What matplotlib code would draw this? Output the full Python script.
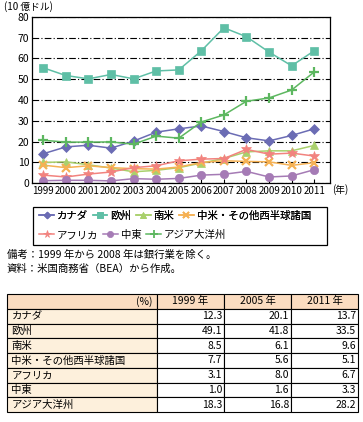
import matplotlib
matplotlib.use("Agg")
import matplotlib.pyplot as plt
from matplotlib.patches import Rectangle
from matplotlib.lines import Line2D

plt.rcParams['font.family'] = ['Noto Sans CJK JP', 'DejaVu Sans']

years = list(range(1999, 2012))

canada = [14.1, 17.4, 18.2, 16.8, 20.2, 24.5, 26.1, 27.5, 24.8, 21.8, 20.3, 22.9, 26.1]
europe = [55.5, 51.8, 50.2, 52.3, 50.2, 54.0, 54.5, 63.7, 74.8, 70.5, 63.1, 56.5, 63.7]
s_america = [9.9, 10.2, 8.8, 7.2, 5.4, 6.1, 7.4, 9.6, 11.8, 15.0, 15.5, 15.5, 18.1]
c_america = [8.6, 7.4, 8.3, 7.4, 6.9, 6.7, 7.7, 9.9, 10.7, 10.4, 10.2, 8.5, 9.8]
africa = [3.8, 2.9, 4.3, 5.3, 7.4, 8.3, 10.7, 11.5, 11.8, 16.2, 13.9, 14.4, 13.0]
mideast = [1.1, 1.3, 1.3, 1.0, 2.1, 1.8, 2.2, 3.8, 4.2, 5.6, 2.9, 3.4, 6.4]
asia = [20.6, 19.7, 19.7, 19.8, 18.7, 22.6, 21.6, 29.4, 32.8, 39.4, 41.0, 44.8, 53.5]

names = ['カナダ', '欧州', '南米', '中米・その他西半球諸国', 'アフリカ', '中東', 'アジア大洋州']
table_cols = ['1999 年', '2005 年', '2011 年']
table_vals = [
    ['12.3', '20.1', '13.7'],
    ['49.1', '41.8', '33.5'],
    ['8.5', '6.1', '9.6'],
    ['7.7', '5.6', '5.1'],
    ['3.1', '8.0', '6.7'],
    ['1.0', '1.6', '3.3'],
    ['18.3', '16.8', '28.2'],
]

series = [canada, europe, s_america, c_america, africa, mideast, asia]
colors = ['#6b6cb4', '#5fbfa6', '#a9d06c', '#f5b154', '#f2837f', '#a57bb5', '#5db760']
markers = ['D', 's', '^', 'x', '*', 'o', '+']
msizes = [5, 6, 6, 6, 7, 6, 7]

fig = plt.figure(figsize=(3.63, 4.22), dpi=100)
ax = fig.add_axes([32 / 363, 1 - 183 / 422, 298 / 363, 166 / 422])

for vals, c, m, s in zip(series, colors, markers, msizes):
    ax.plot(years, vals, color=c, lw=1.1, marker=m, ms=s,
            mec=c, mfc=c, mew=1.6 if m in 'x+' else 0.5)

ax.set_xlim(1998.5, 2011.7)
ax.set_ylim(0, 80)
ax.set_yticks(range(0, 81, 10))
ax.set_xticks(years)
ax.set_xticklabels([str(y) for y in years])
ax.tick_params(axis='both', direction='in', labelsize=7, length=3, width=0.8, pad=2)
ax.tick_params(axis='y', length=0, labelsize=7.5)
ax.grid(axis='y', color='black', lw=0.8, linestyle=(0, (6, 2, 1, 2)))
ax.set_axisbelow(True)
for sp in ax.spines.values():
    sp.set_linewidth(0.9)

fig.text(332 / 363, 1 - 190 / 422, '(年)', fontsize=7, ha='left', va='center')
fig.text(4 / 363, 1 - 7 / 422, '(10 億ドル)', fontsize=7, ha='left', va='center')

# legend: two rows in one frame
def leg_handle(i):
    return Line2D([], [], color=colors[i], marker=markers[i], ms=msizes[i] - 1.5,
                  mec=colors[i], mfc=colors[i], lw=1.1,
                  mew=1.3 if markers[i] in 'x+' else 0.5)

leg_kw = dict(loc='center left', frameon=False, fontsize=7.5, handlelength=1.4,
              handletextpad=0.3, columnspacing=0.45, borderpad=0.1)
l1 = fig.legend([leg_handle(i) for i in range(4)], names[:4], ncol=4,
                bbox_to_anchor=(33 / 363, 1 - 216 / 422), **leg_kw)
fig.legend([leg_handle(i) for i in range(4, 7)], names[4:], ncol=3,
           bbox_to_anchor=(33 / 363, 1 - 235 / 422), **leg_kw)
fig.add_artist(l1)
fig.patches.append(Rectangle((33 / 363, 1 - 245 / 422), 294 / 363, 38 / 422,
                             transform=fig.transFigure, fill=False,
                             edgecolor='black', lw=0.9))

fig.text(7 / 363, 1 - 255 / 422, '備考：1999 年から 2008 年は銀行業を除く。', fontsize=7.5, va='center')
fig.text(7 / 363, 1 - 269 / 422, '資料：米国商務省（BEA）から作成。', fontsize=7.5, va='center')

# table
tax = fig.add_axes([7 / 363, 1 - 412 / 422, 351 / 363, 118 / 422])
tax.axis('off')
cell_text = [['(%)'] + table_cols] + [[n] + r for n, r in zip(names, table_vals)]
tbl = tax.table(cellText=cell_text, colWidths=[150, 67, 67, 67],
                bbox=[0, 0, 1, 1], cellLoc='right')
tbl.auto_set_font_size(False)
for (r, c), cell in tbl.get_celld().items():
    cell.set_linewidth(0.8)
    cell.set_fontsize(7.5)
    cell.PAD = 0.03
    txt = cell.get_text()
    if r == 0:
        cell.set_facecolor('#fbdcc0')
        if c > 0:
            txt.set_ha('center')
            cell._loc = 'center'
    elif c == 0:
        cell.set_facecolor('#fdf0dc')
        txt.set_ha('left')
        cell._loc = 'left'
    else:
        cell.set_facecolor('white')

fig.savefig('out.png', dpi=100)
